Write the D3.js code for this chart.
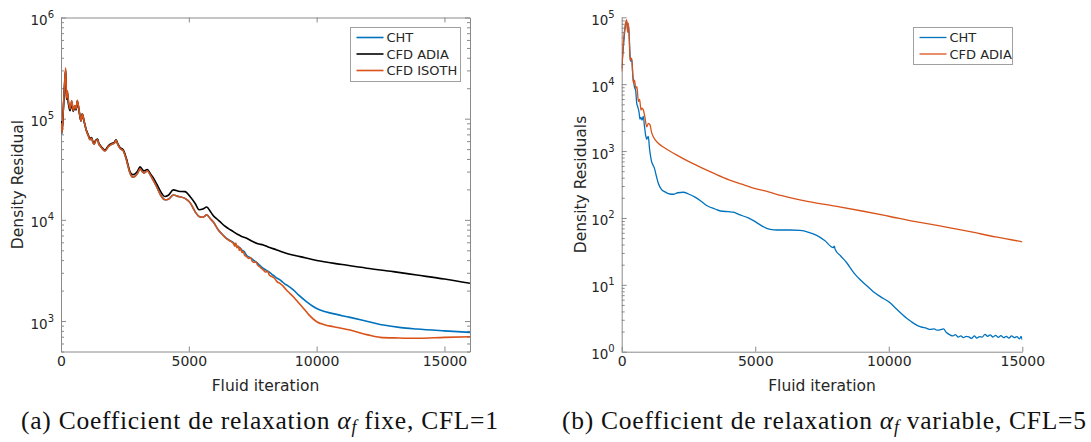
<!DOCTYPE html>
<html><head><meta charset="utf-8">
<script src="https://cdn.jsdelivr.net/npm/d3@7"></script>
<style>body{margin:0;background:#fff}svg{display:block}</style>
</head><body><svg id="c" width="1091" height="442"></svg>
<script>
// ---------- DATA ----------
// Panel (a)
const xTicksA = [0, 5000, 10000, 15000];
const yTicksA = [1e3, 1e4, 1e5, 1e6];
const seriesNamesA = ["CHT", "CFD ADIA", "CFD ISOTH"];
const earlyIterA = [10,40,80,130,184,215,246,290,352,418,481,540,590,638,700,782,833,900,1000,1068,1130,1200,1250,1303,1350,1435,1480,1526,1600,1721,1850,1983,2080,2152,2230,2308,2438,2550,2700,2800,2895,3000,3091,3180,3247,3377,3500,3612,3750,3900,4069,4200,4394,4600,4851,5047,5250,5399,5550,5700,5850,5960,6155,6300,6450,6600];
const isothEarly = [90000,72000,110000,200000,318000,160000,190000,150000,125000,150000,120000,135000,125000,152000,125000,95000,112000,95000,75000,68000,62000,64000,58000,56000,60000,62000,56000,54000,51000,48000,53000,56000,57000,61000,55000,51000,48000,40000,29000,26500,27000,29000,32000,30000,29000,30500,27500,24500,21000,17500,15800,16000,17600,17000,16300,14800,12000,10800,10600,11200,10200,9500,7940,7200,6600,6200];
const chtEarly = [88000,71000,108000,195000,305000,158000,188000,149000,124000,149000,120000,134000,124000,150000,124000,95000,111000,95000,75000,68000,62000,64000,58000,56000,60000,62000,56000,54000,51000,48000,53000,56000,57000,61000,55000,51000,48000,40000,29000,26500,27000,29000,32000,30000,29000,30500,27500,24500,21000,17500,15800,16000,17600,17000,16300,14800,12000,10800,10600,11200,10200,9500,7940,7250,6650,6250];
const adiaIterA = [10,40,80,130,184,215,246,290,352,418,481,540,590,638,700,782,833,900,1000,1068,1130,1200,1250,1303,1350,1435,1480,1526,1600,1721,1850,1983,2080,2152,2230,2308,2438,2550,2700,2800,2895,3000,3091,3180,3247,3377,3500,3612,3750,3900,4069,4200,4394,4600,4851,5047,5250,5399,5550,5700,5850,5960,6100,6220,6400,6550,6741,6900,7050,7265,7500,7700,7915,8100,8439,8900,9351,10004,11000,11960,13000,13916,15000,16000];
const adiaValA = [95000,75000,110000,190000,300000,155000,180000,140000,120000,140000,118000,132000,122000,148000,122000,95000,112000,95000,76000,69000,64000,65000,59000,57000,61000,63000,57000,55000,52000,49000,54000,57000,58000,62000,56000,52000,49000,41000,30000,28000,28500,30500,33500,31500,30500,31500,28500,26000,22500,19000,17000,17500,19800,19200,19000,17000,14500,12600,12800,13400,12000,11000,10200,9600,8700,8200,7650,7200,6900,6580,6100,5800,5650,5400,5050,4600,4330,3960,3620,3330,3080,2850,2600,2360];
const isothLateIter = [6741,6800,6840,6880,6930,6980,7030,7080,7130,7180,7265,7350,7420,7480,7560,7620,7700,7800,7915,8000,8080,8150,8250,8350,8450,8568,8700,8800,8950,9089,9250,9480,9700,10004,10300,10654,11307,12000,12480,13200,13916,15000,16000];
const isothLateVal = [5870,5500,5900,5300,5500,5000,5200,4750,4850,4500,4330,4150,4250,3900,3800,3850,3550,3400,3200,3050,3100,2850,2750,2650,2450,2360,2200,2050,1880,1740,1560,1340,1150,985,920,880,815,730,690,680,675,690,700];
const chtLateIter = [6741,6820,6880,6950,7020,7080,7150,7265,7350,7450,7550,7650,7750,7915,8050,8150,8250,8350,8450,8568,8650,8750,8850,9089,9300,9612,9850,10133,10600,11307,12000,12610,13300,13916,15000,16000];
const chtLateVal = [5950,5650,5500,5400,5250,5000,4900,4450,4300,4150,3950,3800,3600,3310,3150,3050,2900,2780,2650,2550,2450,2330,2250,2030,1800,1550,1400,1285,1190,1087,990,912,860,834,800,773];

// Panel (b)
const xTicksB = [0, 5000, 10000, 15000];
const yTicksB = [1, 10, 100, 1e3, 1e4, 1e5];
const seriesNamesB = ["CHT", "CFD ADIA"];
const chtIterB = [0,60,130,186,230,260,300,330,374,420,480,524,562,600,650,685,720,760,810,850,900,936,970,997,1040,1090,1123,1170,1221,1300,1370,1480,1621,1800,1932,2100,2306,2500,2745,3000,3200,3494,3700,4000,4180,4400,4741,5000,5200,5429,5700,5927,6300,6676,7000,7301,7600,7925,7960,7990,8200,8425,8700,8923,9200,9421,9700,10046,10300,10671,10850,11045,11200,11420,11550,11700,11800,11919,12050,12150,12293,12400,12500,12600,12700,12792,12900,13000,13100,13200,13300,13400,13500,13600,13700,13800,13900,14000,14100,14200,14300,14400,14500,14600,14700,14800,14900,14950,15000];
const chtValB = [17000,35000,70000,88000,60000,75000,35000,22000,24000,13000,9000,8000,5200,4600,3800,3000,3200,2900,3300,2400,1700,1500,1600,1650,1100,800,690,620,560,420,330,270,245,228,226,238,242,228,205,175,152,136,127,124,122,112,100,88,78,70,66.5,66,66,65,61,55,46,36,38,34,27,21.4,15,12,9.5,7.9,6.6,5.4,4.3,3.16,2.8,2.5,2.35,2.24,2.15,2.2,2.1,2.12,2.2,1.95,1.78,1.72,1.8,1.65,1.72,1.62,1.7,1.66,1.58,1.72,1.6,1.68,1.65,1.82,1.7,1.78,1.66,1.76,1.64,1.74,1.62,1.7,1.6,1.72,1.62,1.68,1.55,1.7,1.5];
const adiaIterB = [0,60,130,186,220,250,290,310,374,436,480,524,570,623,670,723,760,810,870,936,1000,1060,1120,1183,1370,1600,2000,2500,3000,3500,4000,4500,5000,5500,6000,7000,8000,9000,10000,11000,12000,13000,14000,15000];
const adiaValB = [15400,40000,75000,92000,60000,82000,40000,23000,24500,10300,11500,8700,9200,5500,5900,4100,4400,4100,3200,2300,2600,2460,1900,1640,1310,1120,900,700,560,455,375,320,275,245,215,175,150,127,106,88,75,63,52,44];

const captionA = ["(a) Coefficient de relaxation ", "fixe, CFL=1"];
const captionB = ["(b) Coefficient de relaxation ", "variable, CFL=5"];

// ---------- DRAW ----------
const svg = d3.select("#c");
const AX = "#8a8a8a", TX = "#262626";
const BLUE = "#0072BD", ORANGE = "#D95319", BLACK = "#000000";
const FONT = "DejaVu Sans, sans-serif";

function zip(xs, ys){ return xs.map((x,i)=>({x:x, y:ys[i]})); }

function minorVals(lo, hi){
  const out=[];
  for(let e=Math.floor(Math.log10(lo)); e<Math.log10(hi); e++){
    for(let m=2;m<=9;m++){ const v=m*Math.pow(10,e); if(v>=lo && v<=hi) out.push(v); }
  }
  return out;
}

function styleAxis(g){
  g.selectAll("path.domain").attr("stroke", AX).attr("stroke-width",1);
  g.selectAll(".tick line").attr("stroke", AX).attr("stroke-width",1);
  g.selectAll(".tick text").attr("fill", TX).attr("font-family", FONT);
}

function supLabels(g){
  g.selectAll(".tick text").each(function(d){
    const t = d3.select(this);
    t.text(null).attr("font-size", 13.5).attr("dy", null).attr("y", 7);
    t.append("tspan").text("10");
    t.append("tspan").attr("dy", -7).attr("font-size", 10).text(Math.round(Math.log10(d)));
  });
}

function panel(cfg){
  const x = d3.scaleLinear().domain(cfg.xDomain).range([cfg.left, cfg.right]);
  const y = d3.scaleLog().domain(cfg.yDomain).range([cfg.bottom, cfg.top]);
  const g = svg.append("g");
  const clipId = "clip"+cfg.id;
  svg.append("clipPath").attr("id", clipId).append("rect")
    .attr("x", cfg.left).attr("y", cfg.top).attr("width", cfg.right-cfg.left).attr("height", cfg.bottom-cfg.top);

  const gb = g.append("g").attr("transform", `translate(0,${cfg.bottom})`)
    .call(d3.axisBottom(x).tickValues(cfg.xTicks).tickSizeInner(-5).tickSizeOuter(0).tickPadding(12).tickFormat(d3.format("d")));
  styleAxis(gb);
  gb.selectAll(".tick text").attr("font-size", 14).attr("y", 14).attr("dy", null);
  const gl = g.append("g").attr("transform", `translate(${cfg.left},0)`)
    .call(d3.axisLeft(y).tickValues(cfg.yTicks).tickSizeInner(-5).tickSizeOuter(0).tickPadding(7));
  styleAxis(gl); supLabels(gl);
  const glm = g.append("g").attr("transform", `translate(${cfg.left},0)`)
    .call(d3.axisLeft(y).tickValues(minorVals(cfg.yDomain[0], cfg.yDomain[1])).tickSizeInner(-3).tickSizeOuter(0).tickFormat(""));
  styleAxis(glm); glm.select("path.domain").remove();

  if(cfg.box){
    const gt = g.append("g").attr("transform", `translate(0,${cfg.top})`)
      .call(d3.axisTop(x).tickValues(cfg.xTicks).tickSizeInner(-5).tickSizeOuter(0).tickFormat(""));
    styleAxis(gt);
    const gr = g.append("g").attr("transform", `translate(${cfg.right},0)`)
      .call(d3.axisRight(y).tickValues(cfg.yTicks).tickSizeInner(-5).tickSizeOuter(0).tickFormat(""));
    styleAxis(gr);
    const grm = g.append("g").attr("transform", `translate(${cfg.right},0)`)
      .call(d3.axisRight(y).tickValues(minorVals(cfg.yDomain[0], cfg.yDomain[1])).tickSizeInner(-3).tickSizeOuter(0).tickFormat(""));
    styleAxis(grm); grm.select("path.domain").remove();
  }

  const line = d3.line().x(d=>x(d.x)).y(d=>y(d.y)).curve(d3.curveMonotoneX);
  const lg = g.append("g").attr("clip-path", `url(#${clipId})`);
  cfg.series.forEach(s=>{
    lg.append("path").datum(s.data).attr("d", line).attr("fill","none")
      .attr("stroke", s.color).attr("stroke-width", cfg.lw).attr("stroke-linejoin","round");
  });

  g.append("text").attr("x", (cfg.left+cfg.right)/2).attr("y", 390.5).attr("text-anchor","middle")
    .attr("font-family", FONT).attr("font-size", 15.5).attr("fill", TX).text("Fluid iteration");
  g.append("text").attr("transform", `translate(${cfg.ylabX},${(cfg.top+cfg.bottom)/2}) rotate(-90)`)
    .attr("text-anchor","middle").attr("font-family", FONT).attr("font-size", 15.5).attr("fill", TX).text(cfg.ylabel);

  const L = cfg.legend;
  g.append("rect").attr("x", L.x).attr("y", L.y).attr("width", L.w).attr("height", L.h)
    .attr("fill","#fff").attr("stroke","#a0a0a0").attr("stroke-width",1);
  cfg.series.forEach((s,i)=>{
    const cy = L.y + 10 + i*16.5;
    g.append("line").attr("x1", L.x+6).attr("x2", L.x+33).attr("y1", cy).attr("y2", cy)
      .attr("stroke", s.color).attr("stroke-width", cfg.lw);
    g.append("text").attr("x", L.x+36).attr("y", cy+4.5).attr("font-family", FONT).attr("font-size", 13)
      .attr("fill", TX).text(s.name);
  });

  // caption
  const fs = 25.5;
  const cap = g.append("text").attr("x", cfg.capX).attr("y", 429).attr("text-anchor","middle")
    .attr("font-family", "Liberation Serif, Times New Roman, serif").attr("font-size", fs).attr("fill","#111")
    .attr("textLength", cfg.capW).attr("lengthAdjust","spacing");
  cap.append("tspan").text(cfg.caption[0]);
  cap.append("tspan").attr("font-style","italic").text("α");
  cap.append("tspan").attr("font-style","italic").attr("font-size",fs*0.7).attr("dy",4).text("f");
  cap.append("tspan").attr("dy",-4).text(" " + cfg.caption[1]);
}

panel({
  id:"A", left:61, right:470, top:17.5, bottom:351.5,
  xDomain:[0,16000], yDomain:[500,1e6], xTicks:xTicksA, yTicks:yTicksA, box:true, lw:1.6,
  ylabX:23, ylabel:"Density Residual",
  series:[
    {name:seriesNamesA[0], color:BLUE, data: zip(earlyIterA, chtEarly).concat(zip(chtLateIter, chtLateVal))},
    {name:seriesNamesA[1], color:BLACK, data: zip(adiaIterA, adiaValA)},
    {name:seriesNamesA[2], color:ORANGE, data: zip(earlyIterA, isothEarly).concat(zip(isothLateIter, isothLateVal))}
  ],
  legend:{x:350.5, y:27.5, w:110, h:54},
  caption:captionA, capX:259.5, capW:477
});

panel({
  id:"B", left:621.7, right:1022.3, top:17.3, bottom:351.7,
  xDomain:[0,15000], yDomain:[1,1e5], xTicks:xTicksB, yTicks:yTicksB, box:false, lw:1.3,
  ylabX:585.5, ylabel:"Density Residuals",
  series:[
    {name:seriesNamesB[0], color:BLUE, data: zip(chtIterB, chtValB)},
    {name:seriesNamesB[1], color:ORANGE, data: zip(adiaIterB, adiaValB)}
  ],
  legend:{x:913.5, y:27.5, w:99, h:37},
  caption:captionB, capX:824, capW:524
});
</script>
</body></html>
